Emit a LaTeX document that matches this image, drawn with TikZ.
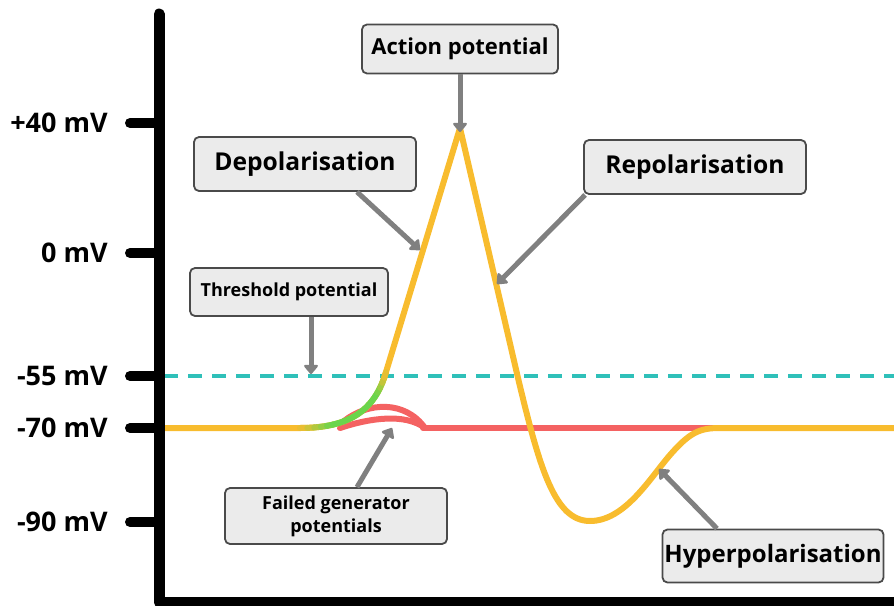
\documentclass[tikz,border=0pt]{standalone}
\usepackage{fontspec}
\setmainfont{Open Sans}
\usepackage{tikz}
\usetikzlibrary{arrows.meta,calc}

\definecolor{curveyellow}{HTML}{F8BC2E}
\definecolor{curvegreen}{HTML}{6AD54C}
\definecolor{curvered}{HTML}{F46262}
\definecolor{thresholdteal}{HTML}{2FC0B9}
\definecolor{pointergray}{HTML}{808080}
\definecolor{boxfill}{HTML}{EBEBEB}
\definecolor{boxline}{HTML}{4A4A4A}

\begin{document}
\begin{tikzpicture}[x=0.5pt,y=-0.5pt,
  mvlabel/.style={anchor=east,inner sep=0pt,font=\fontsize{13.5}{16}\selectfont\bfseries},
  tickmark/.style={line width=5pt,line cap=round},
  callout/.style={draw=boxline,fill=boxfill,line width=0.9pt,rounded corners=2.5pt,inner sep=0pt,
    font=\fontsize{12.3}{14}\selectfont\bfseries,minimum width=111pt,minimum height=27pt},
  smallcallout/.style={callout,font=\fontsize{9}{11.5}\selectfont\bfseries,minimum width=99pt,minimum height=24pt,align=center},
  pointer/.style={draw=pointergray,line width=2.5pt,-{Triangle[length=5pt,width=8pt,round]}},
  trace/.style={line width=3pt,line cap=round,line join=round}]
\useasboundingbox (0,0) rectangle (894,605);

\draw[thresholdteal,line width=2pt,dash pattern=on 7pt off 5pt] (164,376) -- (894,376);
\draw[trace,curvered] (423,428) -- (720,428);
\draw[trace,curvered] (344,421) .. controls (368,402) and (405,400) .. (425,428);
\draw[trace,curvered] (340,428) .. controls (370,418) and (405,413) .. (425,428);
\draw[trace,curveyellow] (159,428) -- (300,428) .. controls (350,428) and (375,410) .. (386,372)
  -- (460,128) -- (518,378) .. controls (540,470) and (555,521) .. (590,521)
  .. controls (625,521) and (650,478) .. (670,455) .. controls (690,432) and (700,428) .. (720,428)
  -- (894,428);
\path (300,428) .. controls (350,428) and (375,410) .. (386,372)
  foreach \k [evaluate=\k as \tk using \k/20] in {0,...,20} {coordinate[pos=\tk] (g\k)};
\foreach \k in {1,...,20} {
  \pgfmathtruncatemacro\prev{\k-1}
  \pgfmathsetmacro\gp{min(100,20*(\k-0.5),25*(20.5-\k))}
  \draw[trace,curvegreen!\gp!curveyellow] (g\prev) -- (g\k);
}

\draw[line width=5.5pt,line cap=round,line join=round] (159,14) -- (159,602) -- (894,602);
\foreach \mv/\ypos [count=\i] in {+40/123,0/253,-55/376,-70/428,-90/522} {
  \draw[tickmark] (130,\ypos) -- (159,\ypos);
  \node[mvlabel] (mv\i) at (108,\ypos) {\mv\ mV};
}

\node[callout,minimum width=98pt,minimum height=24.5pt,font=\fontsize{11}{13}\selectfont\bfseries] (ap) at (460,49) {Action potential};
\node[callout] (dep) at (305,164) {Depolarisation};
\node[callout] (rep) at (695,167) {Repolarisation};
\node[smallcallout] (thr) at (289,292) {Threshold potential};
\node[smallcallout,minimum width=111pt,minimum height=28pt] (fail) at (336,516) {Failed generator\\potentials};
\node[callout,minimum width=110.5pt,minimum height=26.5pt,font=\fontsize{12}{14}\selectfont\bfseries] (hyp) at (773,556) {Hyperpolarisation};

\coordinate (apTip) at (460,132);
\coordinate (depTip) at (420,250);
\coordinate (repTip) at (497,284);
\coordinate (thrTip) at (311,374);
\coordinate (failTip) at (392,428);
\coordinate (hypTip) at (659,469);

\draw[pointer] (ap.south) -- (apTip);
\draw[pointer] ([xshift=26pt]dep.south) -- (depTip);
\draw[pointer] ([xshift=1pt]rep.south west) -- (repTip);
\draw[pointer] ([xshift=11pt]thr.south) -- (thrTip);
\draw[pointer] ([xshift=10.5pt]fail.north) -- (failTip);
\draw[pointer] ([xshift=-28pt]hyp.north) -- (hypTip);
\end{tikzpicture}
\end{document}
